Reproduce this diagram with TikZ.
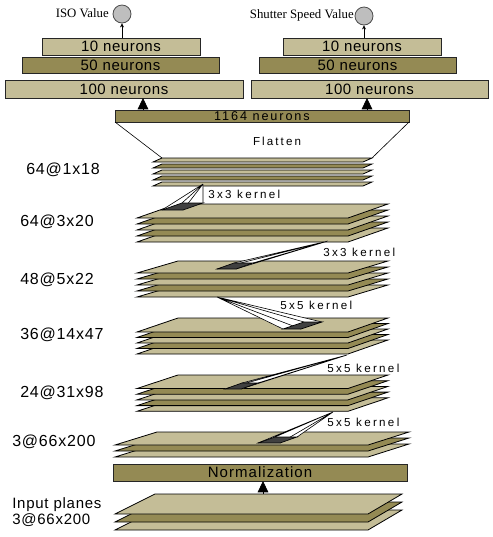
\documentclass[tikz,border=0pt]{standalone}
\usepackage{fontspec}
\setmainfont{Liberation Sans}
\newfontfamily\tnr{Liberation Serif}
\usetikzlibrary{arrows.meta}
\definecolor{tanL}{RGB}{196,189,151}
\definecolor{tanD}{RGB}{148,138,84}
\definecolor{patchc}{RGB}{64,64,64}
\definecolor{circc}{RGB}{190,190,190}

% #1 name, #2 flx, #3 frx, #4 blx, #5 brx, #6 front y, #7 back y, #8 planes, #9 spacing
\newcommand\mystack[9]{%
  \pgfmathtruncatemacro\mylast{#8-1}%
  \foreach \k in {\mylast,...,0}{%
    \pgfmathtruncatemacro\myodd{mod(\k,2)}%
    \ifnum\myodd=0 \def\myfc{tanL}\else\def\myfc{tanD}\fi
    \filldraw[plane, fill=\myfc] (#2,#6+\k*#9) -- (#3,#6+\k*#9) -- (#5,#7+\k*#9) -- (#4,#7+\k*#9) -- cycle;
  }%
  \coordinate (#1FL) at (#2,#6);
  \coordinate (#1FR) at (#3,#6);
  \coordinate (#1BL) at (#4,#7);
  \coordinate (#1BR) at (#5,#7);
}
% #1 apex, #2 FL, #3 FR, #4 BR, #5 BL
\newcommand\mykernel[5]{%
  \fill[white] (#1) -- (#2) -- (#3) -- cycle;
  \fill[white] (#1) -- (#3) -- (#4) -- cycle;
  \fill[white] (#1) -- (#4) -- (#5) -- cycle;
  \fill[white] (#1) -- (#5) -- (#2) -- cycle;
  \draw[fan] (#1) -- (#2) (#1) -- (#3) (#1) -- (#4) (#1) -- (#5);
  \filldraw[patch] (#2) -- (#3) -- (#4) -- (#5) -- cycle;
}

\begin{document}
\begin{tikzpicture}[x=0.75pt,y=-0.75pt,
  plane/.style={draw=black, line width=0.6pt, line join=miter},
  fan/.style={draw=black, line width=0.45pt},
  patch/.style={fill=patchc, draw=black, line width=0.5pt},
  box/.style={rectangle, draw=black!85, line width=0.5pt, inner sep=0pt, outer sep=0pt},
  lbox/.style={box, fill=tanL},
  dbox/.style={box, fill=tanD},
  nfont/.style={font=\fontsize{11.25}{13}\selectfont\addfontfeature{LetterSpace=4}},
  lab/.style={anchor=west, inner sep=0pt, font=\fontsize{12}{14}\selectfont\addfontfeature{LetterSpace=5}},
  klab/.style={anchor=west, inner sep=0pt, font=\fontsize{8.7}{10}\selectfont\addfontfeature{LetterSpace=20}},
  circ/.style={circle, minimum size=13.5pt, inner sep=0pt, fill=circc, draw=gray!60!black, line width=0.6pt},
  bigarr/.style={line width=0.6pt, -{Triangle[length=8.5pt,width=8pt]}},
  stem/.style={line width=0.7pt, -{Stealth[length=3pt,width=3pt]}},
  flat/.style={draw=black, line width=0.45pt}]
\useasboundingbox (0,0) rectangle (493,537);

% ---- top outputs ----
\node[circ] (isoC) at (122,14) {};
\node[circ] (shC) at (364,16) {};
\node[anchor=east, inner sep=0pt, font=\tnr\fontsize{9.6}{11}\selectfont] (isoT) at (109,13) {ISO Value};
\node[anchor=east, inner sep=0pt, font=\tnr\fontsize{9.6}{11}\selectfont] (shT) at (354,15) {Shutter Speed Value};

\node[lbox, nfont, minimum width=118.5pt, minimum height=12.75pt] (L10) at (121,46.5) {10 neurons};
\node[dbox, nfont, minimum width=147.75pt, minimum height=12pt] (L50) at (120.5,65) {50 neurons};
\node[lbox, nfont, minimum width=178.5pt, minimum height=13.5pt] (L100) at (124,89) {100 neurons};
\node[lbox, nfont, minimum width=118.5pt, minimum height=12.75pt] (R10) at (362,46.5) {10 neurons};
\node[dbox, nfont, minimum width=147.75pt, minimum height=12pt] (R50) at (357.5,65) {50 neurons};
\node[lbox, nfont, minimum width=177.75pt, minimum height=13.5pt] (R100) at (369.5,89) {100 neurons};

\draw[stem] (L10.north -| isoC) -- (isoC.south);
\draw[stem] (R10.north -| shC) -- (shC.south);

\node[dbox, minimum width=220.5pt, minimum height=9pt, font=\fontsize{9.5}{10}\selectfont\addfontfeature{LetterSpace=15}] (F1164) at (262,116) {1164 neurons};
\coordinate (aL) at (143,110);
\coordinate (aR) at (367,110);
\draw[bigarr] (aL) -- (aL |- L100.south);
\draw[bigarr] (aR) -- (aR |- R100.south);

\node[inner sep=0pt, font=\fontsize{8.7}{10}\selectfont\addfontfeature{LetterSpace=18}] (flatT) at (277,141) {Flatten};

% ---- stacks ----
\mystack{sA}{153}{363}{162}{372}{162}{158}{5}{6}
\mystack{sB}{137}{348}{177}{388}{218}{204}{5}{6}
\mystack{sC}{137}{348}{178}{388}{273}{261}{5}{6}
\mystack{sD}{137}{348}{178}{388}{332}{318}{5}{5.5}
\mystack{sE}{137}{348}{178}{388}{388.5}{375}{5}{5.7}
\mystack{sF}{115}{368}{157}{409}{445}{432}{3}{6}
\mystack{sG}{115}{368}{155}{402}{514}{494}{3}{8}

\draw[flat] (F1164.south west) -- (sABL);
\draw[flat] (F1164.south east) -- (sABR);

% ---- kernels ----
\mykernel{203,184}{162,210}{183,210}{203,203}{182,203}
\mykernel{328,241}{217,269}{236,269}{253,263}{234,263}
\mykernel{217,297}{283,329}{301,329}{322,322}{304,322}
\mykernel{347,355}{225,389}{241,389}{258,383}{242,383}
\mykernel{333,412}{258,443}{280,443}{297,437}{275,437}

\node[klab] (k1) at (208,194) {3x3 kernel};
\node[klab] (k2) at (323,252) {3x3 kernel};
\node[klab] (k3) at (280,305) {5x5 kernel};
\node[klab] (k4) at (327,368) {5x5 kernel};
\node[klab] (k5) at (327,422) {5x5 kernel};

% ---- normalization ----
\node[dbox, minimum width=220.5pt, minimum height=12.75pt, font=\fontsize{11.25}{13}\selectfont\addfontfeature{LetterSpace=7}] (norm) at (260,472.5) {Normalization};
\coordinate (nA) at (263,494);
\draw[bigarr] (nA) -- (nA |- norm.south);

% ---- left labels ----
\node[lab] (t1) at (26,170) {64@1x18};
\node[lab] (t2) at (20,222) {64@3x20};
\node[lab] (t3) at (20,280) {48@5x22};
\node[lab] (t4) at (20,335) {36@14x47};
\node[lab] (t5) at (20,393) {24@31x98};
\node[lab] (t6) at (12,442) {3@66x200};
\node[lab, align=left, font=\fontsize{11.25}{12.3}\selectfont\addfontfeature{LetterSpace=5}] (t7) at (12,512) {Input planes\\3@66x200};
\end{tikzpicture}
\end{document}
